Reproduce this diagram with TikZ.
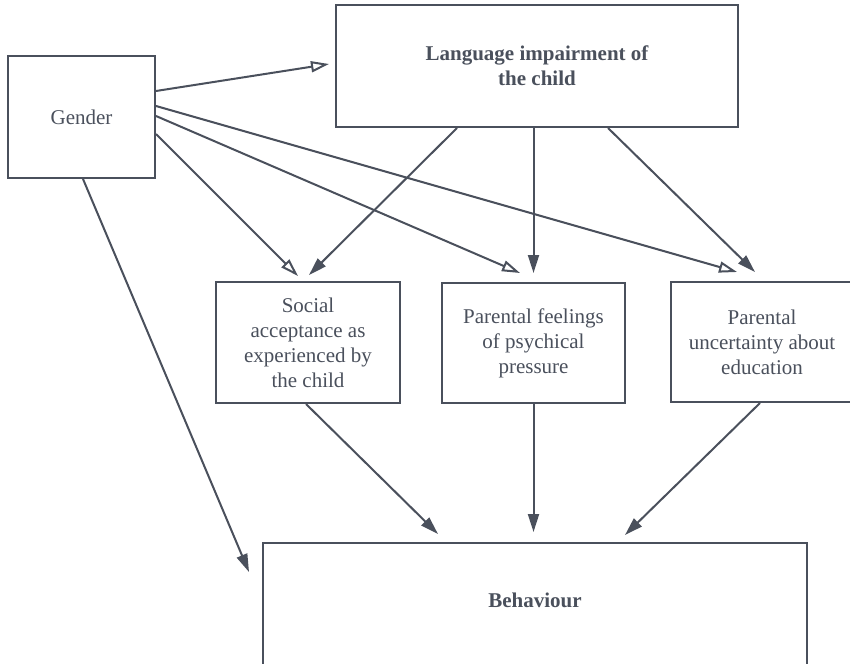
\documentclass[tikz,border=0pt]{standalone}
\usepackage{fontspec}
\setmainfont{Liberation Serif}
\usetikzlibrary{arrows.meta}
\definecolor{ink}{RGB}{74,80,92}
\begin{document}
\begin{tikzpicture}[x=0.5pt,y=-0.5pt,
  box/.style={draw=ink, line width=1pt, rectangle, inner sep=0pt, text=ink, align=center,
    font=\fontsize{10.5}{12.5}\selectfont},
  lbl/.style={text=ink, align=center, inner sep=0pt, font=\fontsize{10.5}{12.5}\selectfont},
  conn/.style={draw=ink, line width=1pt},
  openarr/.style={conn, -{Triangle[open, length=9pt, width=5.5pt, line width=1pt]}},
  fillarr/.style={conn, -{Triangle[length=9pt, width=5.5pt]}}]
\useasboundingbox (0,0) rectangle (850,663);
\clip (0,0) rectangle (850,663);
\fill[white] (0,0) rectangle (850,663);

\node[box, minimum width=73.5pt, minimum height=61pt] (gender) at (81.5,117) {Gender};
\node[box, minimum width=201pt, minimum height=61pt, font=\fontsize{10.5}{12.5}\selectfont\bfseries] (lang) at (537,66) {Language impairment of\\the child};
\node[box, minimum width=92pt, minimum height=60.5pt] (social) at (308,342.5) {Social\\acceptance as\\experienced by\\the child};
\node[box, minimum width=91.5pt, minimum height=60pt] (feel) at (533.5,343) {Parental feelings\\of psychical\\pressure};
\node[box, minimum width=91pt, minimum height=60pt] (unc) at (762,342) {Parental\\uncertainty about\\education};
\node[box, minimum width=272pt, minimum height=68.5pt] (beh) at (535,611.5) {};
\node[lbl, font=\fontsize{10.5}{12.5}\selectfont\bfseries] (behtxt) at (535,600) {Behaviour};

% Gender arrows (open heads)
\draw[openarr] ([yshift=13pt]gender.east) -- ([xshift=-3pt,yshift=1pt]lang.west);
\draw[openarr] ([yshift=5.5pt]gender.east) -- ([xshift=-12.5pt,yshift=4.5pt]unc.north);
\draw[openarr] ([yshift=0.5pt]gender.east) -- ([xshift=-6.75pt,yshift=4.5pt]feel.north);
\draw[openarr] ([yshift=-8.5pt]gender.east) -- ([xshift=-5pt,yshift=2.5pt]social.north);
\draw[fillarr] ([xshift=0.75pt]gender.south) -- ([xshift=-6.5pt,yshift=-15pt]beh.north west);

% Language arrows
\draw[fillarr] ([xshift=-40pt]lang.south) -- ([xshift=0.5pt,yshift=3pt]social.north);
\draw[fillarr] ([xshift=-1.75pt]lang.south) -- ([yshift=4.5pt]feel.north);
\draw[fillarr] ([xshift=35.5pt]lang.south) -- ([xshift=-3.5pt,yshift=4.5pt]unc.north);

% To behaviour
\draw[fillarr] ([xshift=-1pt]social.south) -- ([xshift=-48.5pt,yshift=4pt]beh.north);
\draw[fillarr] (feel.south) -- ([xshift=-0.75pt,yshift=5pt]beh.north);
\draw[fillarr] ([xshift=-1pt]unc.south) -- ([xshift=45pt,yshift=3.5pt]beh.north);
\end{tikzpicture}
\end{document}
